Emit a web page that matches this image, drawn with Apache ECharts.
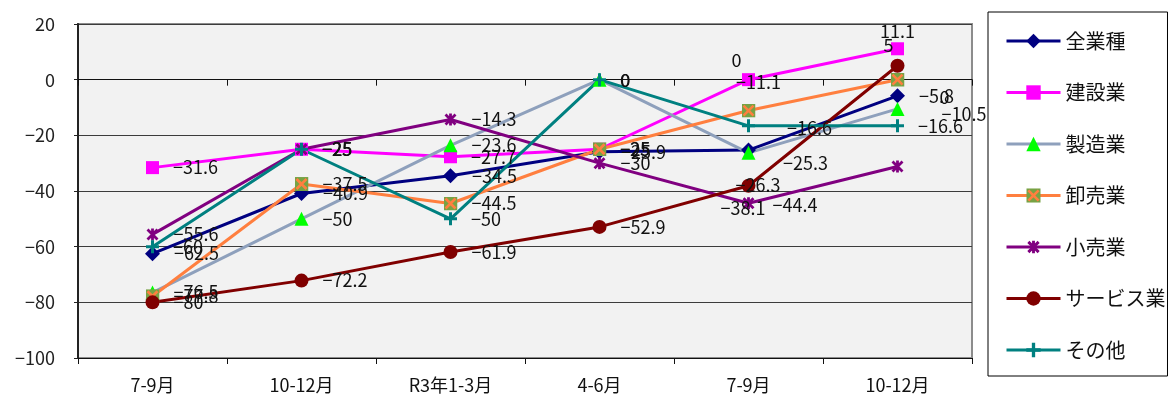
<!DOCTYPE html>
<html>
<head>
<meta charset="utf-8">
<script src="https://cdn.jsdelivr.net/npm/echarts@6/dist/echarts.min.js"></script>
<style>
  html, body { margin: 0; padding: 0; background: #fff; }
  #chart { width: 1168px; height: 394px; }
</style>
</head>
<body>
<div id="chart"></div>
<script>
// 四半期
var categories = ['7-9月', '10-12月', 'R3年1-3月', '4-6月', '7-9月', '10-12月']
var seriesNames = ['全業種', '建設業', '製造業', '卸売業', '小売業', 'サービス業', 'その他']

// 業種別の値
var zenGyoshu = [-62.5, -40.9, -34.5, -25.9, -25.3, -5.8]
var kensetsu = [-31.6, -25, -27.7, -25, 0, 11.1]
var seizo = [-76.5, -50, -23.6, 0, -26.3, -10.5]
var oroshiuri = [-77.8, -37.5, -44.5, -25, -11.1, 0]
var kouri = [-55.6, -25, -14.3, -30, -44.4, -31.2]
var service = [-80, -72.2, -61.9, -52.9, -38.1, 5]
var sonota = [-60, -25, -50, 0, -16.6, -16.6]

var yTicks = [-100, -80, -60, -40, -20, 0, 20]

var FONT = '"Noto Sans CJK JP", "Noto Sans", sans-serif'

function svgIcon(svg) {
  return 'image://data:image/svg+xml;charset=utf-8,' + encodeURIComponent(svg)
}
var symOroshi = svgIcon('<svg xmlns="http://www.w3.org/2000/svg" width="14" height="14" viewBox="0 0 14 14">' +
  '<rect x="0" y="0" width="14" height="14" fill="#77a244"/>' +
  '<path d="M2,2 L12,12 M12,2 L2,12" stroke="#ff7f3f" stroke-width="2.6"/></svg>')
var symKouri = svgIcon('<svg xmlns="http://www.w3.org/2000/svg" width="14" height="14" viewBox="0 0 14 14">' +
  '<path d="M2,2 L12,12 M12,2 L2,12 M7,1 L7,13" stroke="#800080" stroke-width="2.8"/></svg>')
var symPlus = 'path://M5,0h3v5h5v3h-5v5h-3v-5h-5v-3h5z'

// ラベル位置の個別調整 (系列index -> データindex)
var labelAdjust = {
  1: { 4: { position: 'top', distance: 4, offset: [-12, 0] }, 5: { position: 'top', distance: 4, offset: [0, 2] } },
  2: { 4: { offset: [-34, 32] }, 5: { offset: [23, 5] } },
  3: { 4: { position: 'top', distance: 4, offset: [10, -8] }, 5: { offset: [21, 17] } },
  4: { 4: { offset: [3, 2] }, 5: { show: false } },
  5: { 4: { offset: [-49, 22] }, 5: { position: 'top', distance: 4, offset: [-9, -1] } },
  6: { 4: { offset: [18, 2] } },
  0: { 4: { offset: [13, 13] } }
}

function fmt(v) {
  return String(v).replace('-', '−')
}

function buildData(idx, values) {
  return values.map(function(v, i) {
    var adj = labelAdjust[idx] && labelAdjust[idx][i]
    if (!adj) return v
    return { value: v, label: adj }
  })
}

var styles = [
  { line: '#000080', mark: '#000080', symbol: 'diamond', size: 15 },
  { line: '#ff00ff', mark: '#ff00ff', symbol: 'rect', size: 13 },
  { line: '#8ea0bc', mark: '#00ff00', symbol: 'triangle', size: 14 },
  { line: '#ff7f3f', mark: '#ff7f3f', symbol: symOroshi, size: 14 },
  { line: '#800080', mark: '#800080', symbol: symKouri, size: 14 },
  { line: '#800000', mark: '#800000', symbol: 'circle', size: 14 },
  { line: '#008080', mark: '#008080', symbol: symPlus, size: 13 }
]
var allValues = [zenGyoshu, kensetsu, seizo, oroshiuri, kouri, service, sonota]

var series = seriesNames.map(function(name, i) {
  var s = styles[i]
  return {
    name: name,
    type: 'line',
    xAxisIndex: 0,
    data: buildData(i, allValues[i]),
    symbol: s.symbol,
    symbolSize: s.size,
    showAllSymbol: true,
    lineStyle: { color: s.line, width: 3 },
    itemStyle: { color: s.mark },
    label: {
      show: true,
      position: 'right',
      distance: 14,
      fontFamily: FONT,
      fontSize: 18,
      color: '#111',
      formatter: function(p) { return fmt(p.value) }
    },
    emphasis: { disabled: true },
    animation: false
  }
})

var myChart = echarts.init(document.getElementById('chart'))
var option = {
  backgroundColor: '#fff',
  animation: false,
  grid: {
    left: 78, right: 196, top: 24, bottom: 36,
    show: true,
    backgroundColor: '#f2f2f2',
    borderColor: '#8c8c8c',
    borderWidth: 2
  },
  legend: {
    orient: 'vertical',
    left: 988,
    top: 12,
    padding: [19, 2, 16, 17],
    itemGap: 31.5,
    itemWidth: 54,
    itemHeight: 18,
    backgroundColor: '#fff',
    borderColor: '#000',
    borderWidth: 1,
    borderRadius: 0,
    lineStyle: { width: 3 },
    textStyle: { fontFamily: FONT, fontSize: 20, color: '#111', lineHeight: 20 },
    data: seriesNames
  },
  xAxis: [{
    type: 'category',
    data: categories,
    boundaryGap: true,
    axisLine: { show: false, onZero: false },
    axisTick: { show: false },
    axisLabel: { margin: 18, fontFamily: FONT, fontSize: 18, color: '#111' },
    splitLine: { show: false }
  }, {
    type: 'category',
    data: categories,
    boundaryGap: true,
    axisLine: { show: true, onZero: true, lineStyle: { color: '#111', width: 1 } },
    axisTick: { show: true, inside: true, length: 6, lineStyle: { color: '#111' } },
    axisLabel: { show: false }
  }, {
    type: 'category',
    data: categories,
    position: 'bottom',
    boundaryGap: true,
    axisLine: { show: true, onZero: true, lineStyle: { color: '#111', width: 1 } },
    axisTick: { show: true, inside: false, length: 6, lineStyle: { color: '#111' } },
    axisLabel: { show: false }
  }],
  yAxis: {
    type: 'value',
    min: yTicks[0],
    max: yTicks[yTicks.length - 1],
    interval: 20,
    axisLine: { show: true, lineStyle: { color: '#222', width: 2 } },
    axisTick: { show: true, length: 4, lineStyle: { color: '#222' } },
    axisLabel: {
      margin: 23,
      fontFamily: FONT,
      fontSize: 18,
      color: '#222',
      formatter: function(v) { return fmt(v) }
    },
    splitLine: { show: true, lineStyle: { color: '#3c3c3c', width: 1 } }
  },
  series: series
}

myChart.setOption(option, true)
window.onresize = () => {
  myChart.resize()
}
</script>
</body>
</html>
